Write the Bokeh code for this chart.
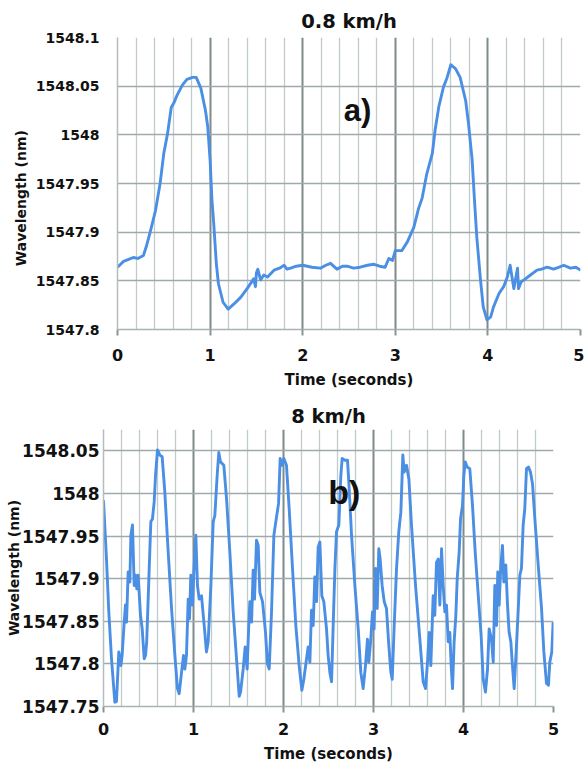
from bokeh.plotting import figure
from bokeh.models import Range1d, FixedTicker, Label
from bokeh.embed import file_html
from bokeh.resources import INLINE

# ---------------- data ----------------
x_ticks = [0, 1, 2, 3, 4, 5]
x_minor = [0.2, 0.4, 0.6, 0.8, 1.2, 1.4, 1.6, 1.8, 2.2, 2.4, 2.6, 2.8,
           3.2, 3.4, 3.6, 3.8, 4.2, 4.4, 4.6, 4.8]

top_title = "0.8 km/h"
top_y_ticks = [1547.8, 1547.85, 1547.9, 1547.95, 1548.0, 1548.05, 1548.1]
top_y_labels = ["1547.8", "1547.85", "1547.9", "1547.95", "1548", "1548.05", "1548.1"]
top_t = [0, 0.065, 0.12, 0.17, 0.22, 0.28, 0.31, 0.35, 0.41, 0.46, 0.50, 0.54,
         0.58, 0.61, 0.64, 0.70, 0.75, 0.81, 0.85, 0.90, 0.95, 0.975, 1.0, 1.02,
         1.037, 1.067, 1.09, 1.14, 1.195, 1.255, 1.33, 1.40, 1.47, 1.49, 1.50,
         1.515, 1.545, 1.58, 1.62, 1.69, 1.75, 1.80, 1.83, 1.87, 1.93, 2.0, 2.1,
         2.19, 2.25, 2.30, 2.37, 2.43, 2.48, 2.55, 2.62, 2.70, 2.77, 2.83, 2.89,
         2.93, 2.97, 3.0, 3.07, 3.13, 3.20, 3.25, 3.29, 3.34, 3.40, 3.43, 3.47,
         3.52, 3.56, 3.60, 3.65, 3.70, 3.76, 3.79, 3.83, 3.855, 3.88, 3.92, 3.95,
         3.99, 4.03, 4.06, 4.12, 4.17, 4.21, 4.24, 4.28, 4.32, 4.33, 4.36, 4.39,
         4.46, 4.53, 4.58, 4.64, 4.71, 4.77, 4.82, 4.89, 4.95, 5.0]
top_wl = [1547.864, 1547.870, 1547.872, 1547.874, 1547.873, 1547.876, 1547.885,
          1547.899, 1547.922, 1547.950, 1547.981, 1548.001, 1548.028, 1548.033,
          1548.040, 1548.051, 1548.057, 1548.059, 1548.059, 1548.048, 1548.025,
          1548.008, 1547.974, 1547.933, 1547.912, 1547.868, 1547.847, 1547.828,
          1547.821, 1547.826, 1547.833, 1547.842, 1547.852, 1547.844, 1547.858,
          1547.862, 1547.851, 1547.856, 1547.854, 1547.861, 1547.863, 1547.866,
          1547.862, 1547.863, 1547.865, 1547.866, 1547.864, 1547.863, 1547.866,
          1547.868, 1547.862, 1547.865, 1547.865, 1547.863, 1547.864, 1547.866,
          1547.867, 1547.865, 1547.864, 1547.873, 1547.871, 1547.881, 1547.881,
          1547.890, 1547.905, 1547.924, 1547.935, 1547.960, 1547.981, 1548.005,
          1548.029, 1548.049, 1548.059, 1548.072, 1548.068, 1548.059, 1548.035,
          1548.012, 1547.974, 1547.933, 1547.895, 1547.851, 1547.823, 1547.810,
          1547.813, 1547.823, 1547.837, 1547.844, 1547.854, 1547.866, 1547.842,
          1547.863, 1547.842, 1547.849, 1547.851, 1547.856, 1547.861, 1547.862,
          1547.864, 1547.862, 1547.864, 1547.866, 1547.863, 1547.864, 1547.861]

bot_title = "8 km/h"
bot_y_ticks = [1547.75, 1547.8, 1547.85, 1547.9, 1547.95, 1548.0, 1548.05]
bot_y_labels = ["1547.75", "1547.8", "1547.85", "1547.9", "1547.95", "1548", "1548.05"]
bot_t = [0, 0.033, 0.059, 0.089, 0.126, 0.144, 0.17, 0.193, 0.207, 0.23, 0.244,
         0.256, 0.274, 0.293, 0.304, 0.322, 0.341, 0.356, 0.37, 0.385, 0.411,
         0.43, 0.452, 0.467, 0.48, 0.504, 0.526, 0.544, 0.563, 0.578, 0.6, 0.626,
         0.652, 0.681, 0.719, 0.756, 0.793, 0.822, 0.841, 0.867, 0.889, 0.904,
         0.922, 0.941, 0.956, 0.97, 0.989, 1.004, 1.026, 1.044, 1.063, 1.089,
         1.119, 1.144, 1.163, 1.193, 1.219, 1.237,
         1.263, 1.281, 1.3, 1.337, 1.367, 1.404, 1.441, 1.478, 1.508, 1.523,
         1.552, 1.574, 1.596, 1.611, 1.626, 1.645, 1.663, 1.678, 1.7, 1.719,
         1.737, 1.767, 1.8, 1.822, 1.841, 1.867, 1.893, 1.922, 1.945, 1.963,
         1.982, 2.004, 2.033, 2.063, 2.1, 2.137, 2.174, 2.204, 2.226, 2.256,
         2.274, 2.293, 2.311, 2.33, 2.348, 2.367, 2.385, 2.404, 2.426, 2.448,
         2.478, 2.496, 2.515,
         2.534, 2.552, 2.571, 2.589, 2.615, 2.637, 2.652, 2.682, 2.711, 2.726,
         2.756, 2.793, 2.83, 2.859, 2.885, 2.911, 2.933, 2.948, 2.97, 2.989,
         3.007, 3.022, 3.041, 3.059, 3.074, 3.096, 3.119, 3.144, 3.17, 3.193,
         3.208, 3.23, 3.256, 3.281, 3.304, 3.326, 3.341, 3.367, 3.393, 3.422,
         3.467, 3.515, 3.552, 3.578, 3.6, 3.619, 3.637, 3.663, 3.681, 3.7, 3.719,
         3.737, 3.756,
         3.774, 3.793, 3.811, 3.83, 3.848, 3.863, 3.878, 3.896, 3.915, 3.93,
         3.952, 3.967, 3.989, 4.004, 4.019, 4.041, 4.07, 4.1, 4.13, 4.167, 4.196,
         4.219, 4.244, 4.267, 4.285, 4.311, 4.33, 4.348, 4.367, 4.381, 4.396,
         4.415, 4.433, 4.448, 4.47, 4.489, 4.507, 4.526, 4.544, 4.563, 4.581,
         4.607, 4.626, 4.644, 4.663, 4.681, 4.7, 4.722, 4.744, 4.767, 4.793,
         4.83, 4.867, 4.893, 4.922, 4.944, 4.959, 4.981, 4.996]
bot_wl = [1547.992, 1547.923, 1547.861, 1547.806, 1547.755, 1547.756, 1547.814,
          1547.798, 1547.810, 1547.849, 1547.869, 1547.849, 1547.908, 1547.896,
          1547.951, 1547.963, 1547.892, 1547.904, 1547.888, 1547.904, 1547.857,
          1547.841, 1547.806, 1547.810, 1547.826, 1547.900, 1547.967, 1547.970,
          1547.990, 1548.021, 1548.051, 1548.045, 1548.043, 1548.002, 1547.931,
          1547.865, 1547.810, 1547.771, 1547.765, 1547.790, 1547.810, 1547.794,
          1547.810, 1547.876, 1547.853, 1547.904, 1547.869, 1547.908, 1547.951,
          1547.892, 1547.876, 1547.880, 1547.845, 1547.814, 1547.826, 1547.892,
          1547.967, 1547.974,
          1548.021, 1548.048, 1548.037, 1548.033, 1547.994, 1547.931, 1547.861,
          1547.806, 1547.762, 1547.767, 1547.794, 1547.820, 1547.794, 1547.837,
          1547.873, 1547.849, 1547.910, 1547.876, 1547.945, 1547.939, 1547.884,
          1547.873, 1547.837, 1547.800, 1547.794, 1547.861, 1547.951, 1547.972,
          1547.988, 1548.041, 1548.033, 1548.041, 1548.033, 1547.982, 1547.912,
          1547.845, 1547.798, 1547.769, 1547.782, 1547.806, 1547.820, 1547.802,
          1547.863, 1547.845, 1547.902, 1547.873, 1547.937, 1547.943, 1547.880,
          1547.873, 1547.841, 1547.810, 1547.790,
          1547.779, 1547.845, 1547.912, 1547.955, 1547.963, 1548.021, 1548.041,
          1548.039, 1548.039, 1548.013, 1547.951, 1547.892, 1547.841, 1547.790,
          1547.771, 1547.798, 1547.829, 1547.802, 1547.829, 1547.861, 1547.841,
          1547.912, 1547.865, 1547.935, 1547.923, 1547.892, 1547.873, 1547.865,
          1547.822, 1547.790, 1547.782, 1547.845, 1547.912, 1547.955, 1547.978,
          1548.045, 1548.025, 1548.033, 1548.017, 1547.963, 1547.892, 1547.829,
          1547.779, 1547.771, 1547.802, 1547.837, 1547.798, 1547.880, 1547.857,
          1547.919, 1547.923, 1547.869, 1547.935,
          1547.892, 1547.861, 1547.869, 1547.826, 1547.837, 1547.798, 1547.771,
          1547.826, 1547.857, 1547.900, 1547.931, 1547.970, 1547.986, 1548.021,
          1548.037, 1548.031, 1548.029, 1547.986, 1547.931, 1547.876, 1547.833,
          1547.782, 1547.767, 1547.794, 1547.841, 1547.829, 1547.802, 1547.892,
          1547.845, 1547.908, 1547.869, 1547.916, 1547.939, 1547.896, 1547.916,
          1547.869, 1547.837, 1547.826, 1547.798, 1547.771, 1547.806, 1547.861,
          1547.904, 1547.912, 1547.963, 1547.982, 1548.029, 1548.031, 1548.025,
          1548.011, 1547.970, 1547.916, 1547.865, 1547.814, 1547.777, 1547.775,
          1547.802, 1547.814, 1547.849]

LINE = "#4a8fe4"
TXT = "#111111"
FONT = "DejaVu Sans"
NBSP = "\u00a0"


def make_chart(title, t, wl, y_ticks, y_labels, y_lo, y_hi, *, height, bl, br, bt, bb,
               xtick_size, ytick_size, ylab_text, ylab_standoff, ytick_standoff,
               xtick_standoff, xlab_standoff, title_size, title_standoff,
               tag, tag_x, tag_y, tag_size):
    p = figure(width=584, height=height, output_backend="svg", toolbar_location=None,
               x_range=Range1d(0, 5), y_range=Range1d(y_lo, y_hi),
               min_border_left=bl, min_border_right=br, min_border_top=bt,
               min_border_bottom=bb, title=title)
    p.outline_line_color = None
    p.background_fill_color = "white"

    p.title.align = "center"
    p.title.text_font = FONT
    p.title.text_font_style = "bold"
    p.title.text_font_size = title_size
    p.title.text_color = TXT
    p.title.standoff = title_standoff

    p.line(t, wl, line_color=LINE, line_width=2.9, line_join="round")

    # x axis
    p.xaxis.ticker = FixedTicker(ticks=x_ticks, minor_ticks=x_minor)
    p.xaxis.axis_line_color = "#a9b3b3"
    p.xaxis.axis_line_width = 1.5
    p.xaxis.major_tick_line_color = "#8a9696"
    p.xaxis.major_tick_line_width = 2
    p.xaxis.major_tick_out = 6
    p.xaxis.major_tick_in = 0
    p.xaxis.minor_tick_out = 0
    p.xaxis.minor_tick_in = 0
    p.xaxis.major_label_standoff = xtick_standoff
    p.xaxis.major_label_text_font = FONT
    p.xaxis.major_label_text_font_style = "bold"
    p.xaxis.major_label_text_font_size = xtick_size
    p.xaxis.major_label_text_color = TXT
    p.xaxis.axis_label = "Time (seconds)"
    p.xaxis.axis_label_text_font = FONT
    p.xaxis.axis_label_text_font_style = "bold"
    p.xaxis.axis_label_text_font_size = "15px"
    p.xaxis.axis_label_text_color = TXT
    p.xaxis.axis_label_standoff = xlab_standoff

    # y axis
    p.yaxis.ticker = FixedTicker(ticks=y_ticks)
    p.yaxis.major_label_overrides = dict(zip(y_ticks, y_labels))
    p.yaxis.axis_line_color = "#b4bcbc"
    p.yaxis.axis_line_width = 1.5
    p.yaxis.major_tick_out = 0
    p.yaxis.major_tick_in = 0
    p.yaxis.minor_tick_out = 0
    p.yaxis.minor_tick_in = 0
    p.yaxis.major_label_standoff = ytick_standoff
    p.yaxis.major_label_text_font = FONT
    p.yaxis.major_label_text_font_style = "bold"
    p.yaxis.major_label_text_font_size = ytick_size
    p.yaxis.major_label_text_color = TXT
    p.yaxis.axis_label = ylab_text
    p.yaxis.axis_label_text_font = FONT
    p.yaxis.axis_label_text_font_style = "bold"
    p.yaxis.axis_label_text_font_size = "14px"
    p.yaxis.axis_label_text_color = TXT
    p.yaxis.axis_label_standoff = ylab_standoff

    # grids
    p.xgrid.grid_line_color = "#7f8b8b"
    p.xgrid.grid_line_width = 2
    p.xgrid.minor_grid_line_color = "#c2cbcb"
    p.xgrid.minor_grid_line_width = 1.3
    p.ygrid.grid_line_color = "#a0aaaa"
    p.ygrid.grid_line_width = 1.5

    p.add_layout(Label(x=tag_x, y=tag_y, text=tag, text_align="left",
                       text_baseline="alphabetic", text_font="Liberation Sans",
                       text_font_style="bold", text_font_size=tag_size,
                       text_color=TXT))
    return p


p1 = make_chart(top_title, top_t, top_wl, top_y_ticks, top_y_labels, 1547.8, 1548.1,
                height=392, bl=117, br=4, bt=37, bb=63,
                xtick_size="16px", ytick_size="14px",
                ylab_text="Wavelength (nm)" + NBSP * 6, ylab_standoff=4,
                ytick_standoff=18, xtick_standoff=13, xlab_standoff=7,
                title_size="19.5px", title_standoff=9,
                tag="a)", tag_x=2.444, tag_y=1548.0245, tag_size="31px")

p2 = make_chart(bot_title, bot_t, bot_wl, bot_y_ticks, bot_y_labels, 1547.75, 1548.075,
                height=373, bl=103, br=31, bt=37, bb=59,
                xtick_size="16px", ytick_size="17px",
                ylab_text="Wavelength (nm)", ylab_standoff=-3,
                ytick_standoff=4, xtick_standoff=10, xlab_standoff=7,
                title_size="19.5px", title_standoff=3,
                tag="b)", tag_x=2.497, tag_y=1548.0016, tag_size="34px")

open("out.html", "w").write(file_html([p1, p2], INLINE))
